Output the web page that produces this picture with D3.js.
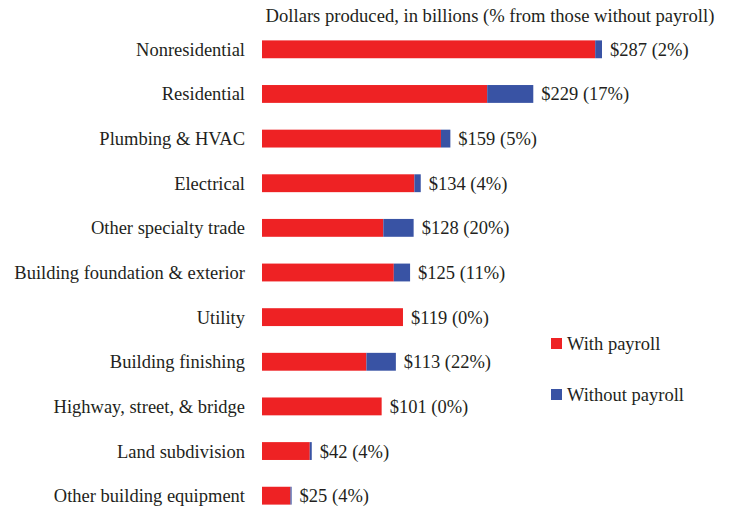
<!DOCTYPE html>
<html>
<head>
<meta charset="utf-8">
<script src="https://cdn.jsdelivr.net/npm/d3@7"></script>
<style>
  body { margin: 0; background: #fff; }
  text { font-family: "Liberation Serif", "Times New Roman", serif; fill: #231f20; }
</style>
</head>
<body>
<div id="chart"></div>
<script>
const categories = [
    "Nonresidential", "Residential", "Plumbing & HVAC", "Electrical",
    "Other specialty trade", "Building foundation & exterior", "Utility",
    "Building finishing", "Highway, street, & bridge", "Land subdivision",
    "Other building equipment"
];
// total dollars produced, billions
const totals = [287, 229, 159, 134, 128, 125, 119, 113, 101, 42, 25];
// share from establishments without payroll, %
const shares = [2, 17, 5, 4, 20, 11, 0, 22, 0, 4, 4];
const seriesNames = ["With payroll", "Without payroll"];
const colors = ["#ee2224", "#3953a4"];

const width = 734;
const height = 512;

const rows = categories.map((c, i) => ({
    category: c,
    total: totals[i],
    share: shares[i],
    without: totals[i] * shares[i] / 100,
    with: totals[i] * (1 - shares[i] / 100),
}));

const svg = d3.select("#chart")
    .append("svg")
    .attr("width", width)
    .attr("height", height);

const xScale = d3.scaleLinear().domain([0, 287]).range([262, 602]);
const yScale = d3.scaleBand()
    .domain(categories)
    .range([27, 518])
    .paddingInner(0.6)
    .paddingOuter(0.3);

// title
svg.append("text")
    .attr("x", 490)
    .attr("y", 22)
    .attr("text-anchor", "middle")
    .style("font-size", "18.6px")
    .text("Dollars produced, in billions (% from those without payroll)");

// category labels
svg.append("g")
    .selectAll("text")
    .data(rows)
    .join("text")
    .attr("x", 245)
    .attr("y", d => yScale(d.category) + yScale.bandwidth() / 2)
    .attr("dy", "0.35em")
    .attr("text-anchor", "end")
    .style("font-size", "18.5px")
    .text(d => d.category);

// stacked bars
const stack = d3.stack().keys(["with", "without"]);
const layers = stack(rows);

svg.append("g")
    .selectAll("g")
    .data(layers)
    .join("g")
    .attr("fill", (d, i) => colors[i])
    .selectAll("rect")
    .data(d => d)
    .join("rect")
    .attr("x", d => xScale(d[0]))
    .attr("y", d => yScale(d.data.category))
    .attr("width", d => xScale(d[1]) - xScale(d[0]))
    .attr("height", yScale.bandwidth());

// value labels
svg.append("g")
    .selectAll("text")
    .data(rows)
    .join("text")
    .attr("x", d => xScale(d.total) + 8)
    .attr("y", d => yScale(d.category) + yScale.bandwidth() / 2)
    .attr("dy", "0.35em")
    .style("font-size", "18.5px")
    .text(d => `$${d.total} (${d.share}%)`);

// legend
const legend = svg.append("g")
    .selectAll("g")
    .data(seriesNames)
    .join("g")
    .attr("transform", (d, i) => `translate(551, ${338 + i * 51})`);

legend.append("rect")
    .attr("width", 11)
    .attr("height", 11)
    .attr("fill", (d, i) => colors[i]);

legend.append("text")
    .attr("x", 16)
    .attr("y", 5.5)
    .attr("dy", "0.35em")
    .style("font-size", "18.5px")
    .text(d => d);
</script>
</body>
</html>
